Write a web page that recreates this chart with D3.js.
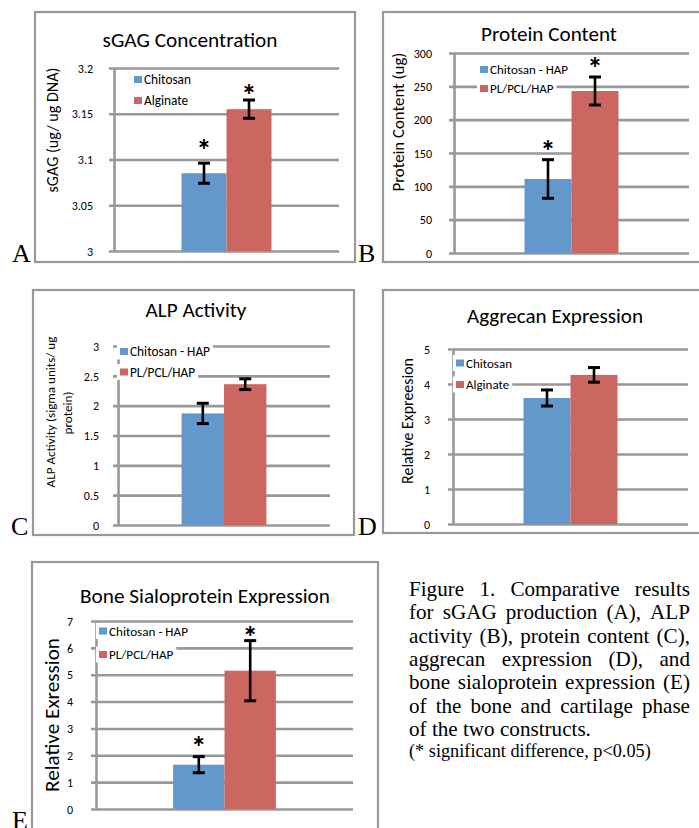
<!DOCTYPE html>
<html><head><meta charset="utf-8">
<script src="https://cdn.jsdelivr.net/npm/d3@7"></script>
<style>
html,body{margin:0;padding:0;background:#fff;}
svg{display:block;}
</style></head><body>
<svg id="c" width="699" height="828"></svg>
<script>
// ---------------- DATA ----------------
const panelLetters = ["A","B","C","D","E"];
const titles = ["sGAG Concentration","Protein Content","ALP Activity","Aggrecan Expression","Bone Sialoprotein Expression"];
const yLabels = [["sGAG (ug/ ug DNA)"],["Protein Content (ug)"],["ALP Activity (sigma units/ ug","protein)"],["Relative Expreesion"],["Relative Exression"]];
const seriesNames = [["Chitosan","Alginate"],["Chitosan - HAP","PL/PCL/HAP"],["Chitosan - HAP","PL/PCL/HAP"],["Chitosan","Alginate"],["Chitosan - HAP","PL/PCL/HAP"]];
const means  = [[3.085,3.155],[111,243],[1.87,2.36],[3.6,4.26],[1.65,5.15]];
const errors = [[0.011,0.010],[29,21],[0.17,0.09],[0.23,0.21],[0.30,1.12]];
const sigMarks = [[3.118,3.178],[163,288],[null,null],[null,null],[2.58,6.67]]; // asterisk positions (data units)
const yDomains = [[3,3.2],[0,300],[0,3],[0,5],[0,7]];
const yTicks = [[3,3.05,3.1,3.15,3.2],[0,50,100,150,200,250,300],[0,0.5,1,1.5,2,2.5,3],[0,1,2,3,4,5],[0,1,2,3,4,5,6,7]];
const yTickLabels = [["3","3.05","3.1","3.15","3.2"],["0","50","100","150","200","250","300"],["0","0.5","1","1.5","2","2.5","3"],["0","1","2","3","4","5"],["0","1","2","3","4","5","6","7"]];
const captionLines = ["Figure 1. Comparative results","for sGAG production (A), ALP","activity (B), protein content (C),","aggrecan expression (D), and","bone sialoprotein expression (E)","of the bone and cartilage phase","of the two constructs."];
const captionNote = "(* significant difference, p<0.05)";

// ---------------- LAYOUT ----------------
const layout = [
 {frame:[35,12,355,262], plot:[114,68,339,251], title:[190,47,175], ylab:[[52,130,125]], gap:21, tfs:12, legend:{x:134,ys:[79.5,100.5],w:47}, letter:[12,262]},
 {frame:[383,12,730,262], plot:[454,53,689,253], title:[549,41,136], ylab:[[398,122,139]], gap:22, tfs:12, legend:{x:480,ys:[69.5,88.5],w:78}, letter:[358,262]},
 {frame:[33,290,354,535], plot:[118,346,330,525], title:[196,317,101], ylab:[[50,412,151],[67,413,41]], gap:19, tfs:12, legend:{x:120,ys:[351.5,372],w:80}, letter:[11,535]},
 {frame:[383,290,730,533], plot:[453,349,688,524], title:[555,323,176], ylab:[[407,421,126]], gap:23, tfs:12, legend:{x:456,ys:[363,384.5],w:46}, letter:[358,535]},
 {frame:[32,562,378,870], plot:[96,621,353,809], title:[205,603,250], ylab:[[52,715,154]], gap:23, tfs:12, legend:{x:99,ys:[631,654.5],w:79}, letter:[12,829]}
];

const svg = d3.select("#c");
const FONT = "Carlito, Calibri, Lato, 'Open Sans', sans-serif";
const SERIF = "'Liberation Serif','Times New Roman',Times,serif";
const colors = ["#6398CC","#CC6661"];
const gray = "#989898";

function fitFont(sel, targetW, base){
  sel.style("font-size", base+"px");
  const w = sel.node().getComputedTextLength();
  const fs = base*targetW/w;
  sel.style("font-size", fs+"px");
  return fs;
}

layout.forEach((L,i)=>{
  const g = svg.append("g");
  const [fx0,fy0,fx1,fy1] = L.frame;
  g.append("rect").attr("x",fx0).attr("y",fy0).attr("width",fx1-fx0).attr("height",fy1-fy0)
    .attr("fill","#fff").attr("stroke",gray).attr("stroke-width",2.2);

  const [px0,py0,px1,py1] = L.plot;
  const y = d3.scaleLinear().domain(yDomains[i]).range([py1,py0]);
  const xCat = d3.scaleBand().domain(["g"]).range([px0,px1]).paddingOuter(0.75).paddingInner(0);
  const xSer = d3.scaleBand().domain(seriesNames[i]).range([0,xCat.bandwidth()]);

  // axis + gridlines
  const ax = g.append("g").attr("transform",`translate(${px0},0)`)
    .call(d3.axisLeft(y).tickValues(yTicks[i]).tickFormat((d,k)=>yTickLabels[i][k])
      .tickSizeInner(-(px1-px0)).tickSizeOuter(0).tickPadding(0));
  ax.select(".domain").attr("stroke",gray).attr("stroke-width",2.6);
  ax.selectAll(".tick line").attr("stroke",gray).attr("stroke-width",2.6).attr("x1",-5);
  ax.selectAll(".tick text").attr("x",-L.gap).attr("dy","0.35em").attr("fill","#000")
    .style("font-family",FONT).style("font-size",L.tfs+"px");

  // title
  const t = g.append("text").attr("x",L.title[0]).attr("y",L.title[1]).attr("text-anchor","middle")
    .style("font-family",FONT).attr("fill","#000").text(titles[i]);
  fitFont(t, L.title[2], 18);

  // y labels
  yLabels[i].forEach((lab,k)=>{
    const [lx,ly,lw] = L.ylab[k];
    const yt = g.append("text").attr("transform",`translate(${lx},${ly}) rotate(-90)`)
      .attr("text-anchor","middle").attr("dy","0.35em").style("font-family",FONT).attr("fill","#000").text(lab);
    if(k===0) L._yfs = fitFont(yt, lw, 14); else yt.style("font-size",L._yfs+"px");
  });

  // bars
  const data = seriesNames[i].map((s,k)=>({s, v:means[i][k], e:errors[i][k], sig:sigMarks[i][k], c:colors[k]}));
  const bx = d=> xCat("g")+xSer(d.s);
  g.selectAll("rect.bar").data(data).join("rect").attr("class","bar")
    .attr("x",bx).attr("width",xSer.bandwidth())
    .attr("y",d=>y(d.v)).attr("height",d=>y(yDomains[i][0])-y(d.v)).attr("fill",d=>d.c);

  // error bars
  const eb = g.selectAll("g.eb").data(data).join("g").attr("class","eb");
  const cxf = d=> bx(d)+xSer.bandwidth()/2;
  eb.append("line").attr("x1",cxf).attr("x2",cxf).attr("y1",d=>y(d.v+d.e)).attr("y2",d=>y(d.v-d.e))
    .attr("stroke","#000").attr("stroke-width",2.6);
  [1,-1].forEach(sg=>{
    eb.append("line").attr("x1",d=>cxf(d)-6).attr("x2",d=>cxf(d)+6)
      .attr("y1",d=>y(d.v+sg*d.e)).attr("y2",d=>y(d.v+sg*d.e))
      .attr("stroke","#000").attr("stroke-width",3);
  });
  // significance asterisks
  g.selectAll("text.sig").data(data.filter(d=>d.sig!==null)).join("text").attr("class","sig")
    .attr("x",cxf).attr("y",d=>y(d.sig)+17).attr("text-anchor","middle")
    .style("font-family",FONT).style("font-weight","bold").style("font-size","31px").attr("fill","#000").text("*");

  // legend
  const lg = g.append("g");
  seriesNames[i].forEach((s,k)=>{
    const ly = L.legend.ys[k];
    const row = lg.append("g");
    const bg = row.append("rect").attr("fill","#fff");
    row.append("rect").attr("x",L.legend.x).attr("y",ly-3.5).attr("width",8).attr("height",7).attr("fill",colors[k]);
    const tx = row.append("text").attr("x",L.legend.x+10).attr("y",ly).attr("dy","0.35em")
      .style("font-family",FONT).attr("fill","#000").text(s);
    if(k===0) L._lfs = fitFont(tx, L.legend.w, 12.5); else tx.style("font-size",L._lfs+"px");
    const tw = tx.node().getComputedTextLength();
    bg.attr("x",L.legend.x-3).attr("y",ly-8).attr("width",tw+16).attr("height",16);
  });

  // panel letter
  svg.append("text").attr("x",L.letter[0]).attr("y",L.letter[1]).style("font-family",SERIF)
    .style("font-size","26px").attr("fill","#000").text(panelLetters[i]);
});

// caption
const capLeft=409, capRight=690, capBase0=596, capLH=23.3;
const probe = svg.append("text").style("font-family",SERIF).text(captionLines[captionLines.length-1]);
const capFS = fitFont(probe, 182, 20);
probe.remove();
captionLines.forEach((line,i)=>{
  const yy = capBase0 + i*capLH;
  const words = line.split(" ");
  const g = svg.append("g");
  const ts = words.map(w=> g.append("text").attr("y",yy).style("font-family",SERIF)
    .style("font-size",capFS+"px").attr("fill","#000").text(w));
  const widths = ts.map(t=>t.node().getComputedTextLength());
  const total = d3.sum(widths);
  const justify = i < captionLines.length-1;
  const sp = justify ? (capRight-capLeft-total)/(words.length-1) : capFS*0.25;
  let x = capLeft;
  ts.forEach((t,j)=>{ t.attr("x",x); x += widths[j]+sp; });
});
const note = svg.append("text").attr("x",capLeft).attr("y",757).style("font-family",SERIF).attr("fill","#000").text(captionNote);
fitFont(note, 242, 17);
</script>
</body></html>
